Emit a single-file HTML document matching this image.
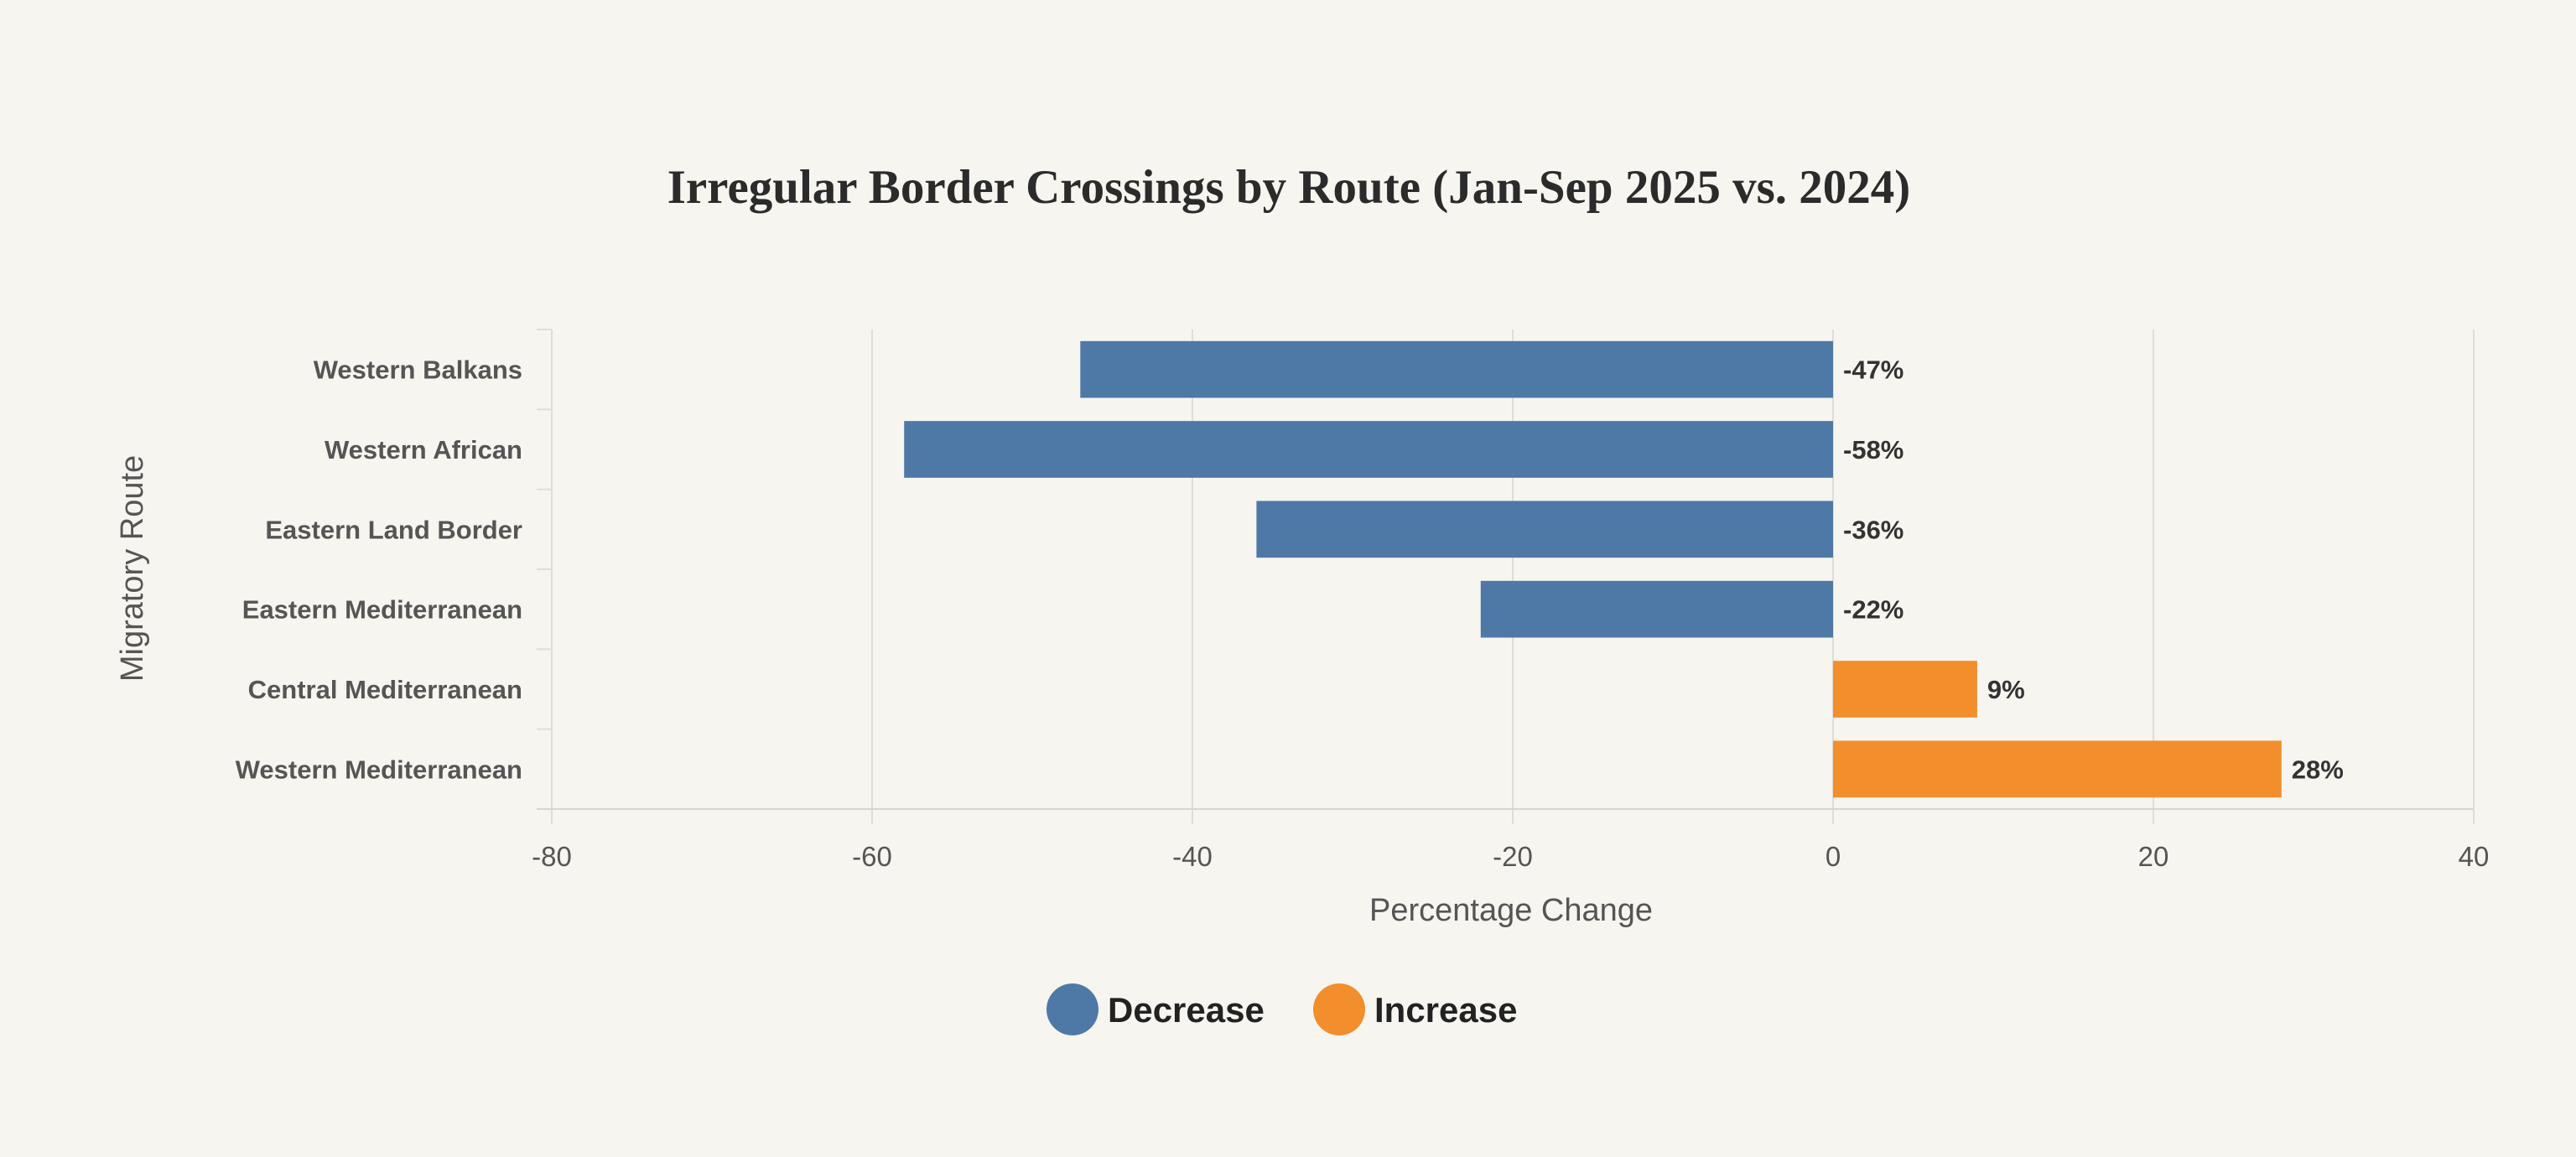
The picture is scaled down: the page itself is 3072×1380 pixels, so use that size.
<!DOCTYPE html>
<html><head><meta charset="utf-8"><style>
html,body{margin:0;padding:0;background:#f7f5f0;}
svg{display:block;font-family:"Liberation Sans",sans-serif;}
</style></head><body>
<svg id="chart" width="3072" height="1380" viewBox="0 0 3072 1380">
<rect width="3072" height="1380" fill="#f7f5f0"/>
<text x="1537" y="242" text-anchor="middle" font-family="Liberation Serif, serif" font-weight="bold" font-size="57" fill="#2b2b2b">Irregular Border Crossings by Route (Jan-Sep 2025 vs. 2024)</text>
<g id="grid"></g>
<g id="bars"></g>
<g id="yaxis"></g>
<g id="xaxis"></g>
<text x="1802" y="1098" text-anchor="middle" font-size="38" fill="#555">Percentage Change</text>
<text transform="translate(170,678) rotate(-90)" text-anchor="middle" font-size="38" fill="#555">Migratory Route</text>
<g>
<circle cx="1279" cy="1204" r="31" fill="#4e79a7"/>
<text x="1321" y="1219" font-size="42" font-weight="bold" fill="#222">Decrease</text>
<circle cx="1597" cy="1204" r="31" fill="#f28e2b"/>
<text x="1639" y="1219" font-size="42" font-weight="bold" fill="#222">Increase</text>
</g>
</svg>
<script>
const categories = ["Western Balkans","Western African","Eastern Land Border","Eastern Mediterranean","Central Mediterranean","Western Mediterranean"];
const values = [-47,-58,-36,-22,9,28];
const valueLabels = ["-47%","-58%","-36%","-22%","9%","28%"];
const xTicks = [-80,-60,-40,-20,0,20,40];
const NS="http://www.w3.org/2000/svg";
const X0=658,X1=2950,Y0=393,Y1=965,DMIN=-80,DMAX=40;
function x(v){return X0+(v-DMIN)/(DMAX-DMIN)*(X1-X0);}
const bandH=(Y1-Y0)/categories.length;
function yBand(i){return Y0+i*bandH;}
function mk(tag,attrs,parent){const e=document.createElementNS(NS,tag);for(const k in attrs)e.setAttribute(k,attrs[k]);parent.appendChild(e);return e;}
const grid=document.getElementById('grid'),bars=document.getElementById('bars'),ya=document.getElementById('yaxis'),xa=document.getElementById('xaxis');
xTicks.forEach(t=>{
  const l=mk('line',{x1:x(t),x2:x(t),y1:Y0,y2:Y1+18,stroke:'#e0ddd8','stroke-width':2},grid);
  
  
  const tx=mk('text',{x:x(t),y:1033,'text-anchor':'middle','font-size':33,fill:'#555'},xa);
  tx.textContent=t;
  
  
});
const ax=mk('line',{x1:X0-18,x2:X1,y1:Y1,y2:Y1,stroke:'#d8d5d0','stroke-width':2},xa);


for(let i=0;i<=categories.length;i++){
  const tk=mk('line',{x1:X0-18,x2:X0,y1:yBand(i),y2:yBand(i),stroke:'#e0ddd8','stroke-width':2},ya);
  
  
}
categories.forEach((c,i)=>{
  const v=values[i],yc=yBand(i)+bandH/2,h=bandH*0.71;
  const r=mk('rect',{x:Math.min(x(0),x(v)),y:yc-h/2,width:Math.abs(x(v)-x(0)),height:h,fill:v<0?'#4e79a7':'#f28e2b'},bars);
  
  
  const lab=mk('text',{x:Math.max(x(0),x(v))+12,y:yc+11,'font-size':31,'font-weight':'bold',fill:'#333'},bars);
  lab.textContent=valueLabels[i];
  
  
  const cl=mk('text',{x:623,y:yc+11,'text-anchor':'end','font-size':31,'font-weight':'bold',fill:'#555'},ya);
  cl.textContent=c;
  
  
});
</script>
</body></html>
